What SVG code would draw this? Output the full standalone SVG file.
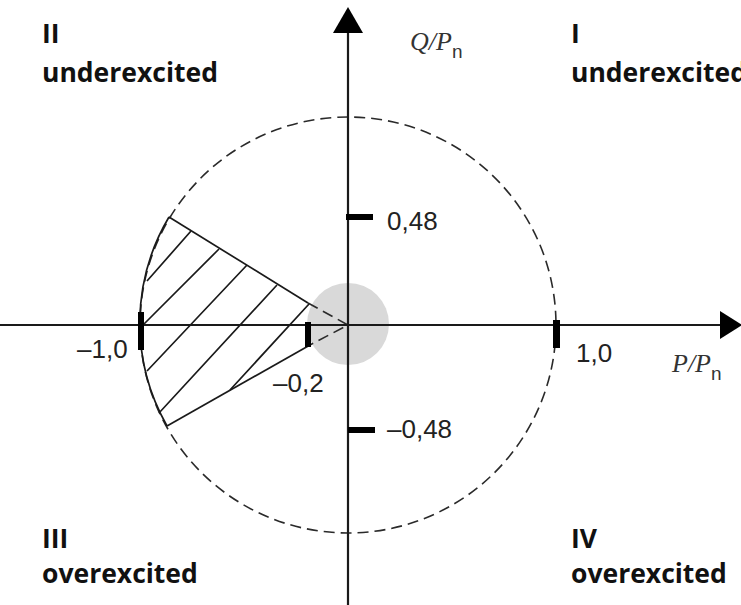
<svg xmlns="http://www.w3.org/2000/svg" width="741" height="605" viewBox="0 0 741 605">
<style>
.quad{font-family:"Open Sans","Noto Sans",sans-serif;font-weight:700;font-size:26.5px;fill:#111}
.num{font-family:"Liberation Sans",Arial,sans-serif;font-size:26px;fill:#222}
.var{font-family:"Liberation Serif","Times New Roman",serif;font-style:italic;font-size:26px;fill:#333}
.sub{font-family:"Liberation Sans",Arial,sans-serif;font-style:normal;font-size:19px;fill:#333}
.axis{stroke:#1a1a1a;stroke-width:2.2;fill:none}
.ln{stroke:#1a1a1a;stroke-width:1.7;fill:none}
.dash{stroke:#2a2a2a;stroke-width:1.6;fill:none;stroke-dasharray:11 6}
.tick{fill:#000}
</style>
<rect width="741" height="605" fill="#fff"/>
<g id="origin-zone">
<circle cx="348" cy="324" r="41" fill="#d9d9d9"/>
</g>
<g id="circle">
<circle class="dash" cx="348" cy="325" r="208"/>
<path class="ln" d="M169,217 A208,208 0 0 0 167,426"/>
</g>
<g id="region">
<path class="ln" d="M169,217 L308,303"/>
<path class="ln" d="M167,426 L310,345"/>
<path class="dash" d="M308,303 L348,325 L310,345" stroke-dasharray="7 5"/>
<path class="ln" d="M191,231 L147,281 M219,249 L142,326 M247,265 L147,371 M277,285 L159,413 M309,304 L230,390"/>
</g>
<g id="axes">
<line class="axis" x1="0" y1="325" x2="722" y2="325"/>
<polygon points="720,311 742,325 720,339" fill="#000"/>
<line class="axis" x1="348" y1="605" x2="348" y2="30"/>
<polygon points="333,33 348,7 363,33" fill="#000"/>
</g>
<g id="ticks">
<rect class="tick" x="138" y="312" width="6" height="38"/>
<rect class="tick" x="305" y="322" width="6" height="25"/>
<rect class="tick" x="553" y="320" width="7" height="28"/>
<rect class="tick" x="346" y="214" width="27" height="6"/>
<rect class="tick" x="348" y="427" width="27" height="6"/>
</g>
<g id="labels">
<text class="num" x="77" y="358">–1,0</text>
<text class="num" x="273" y="392">–0,2</text>
<text class="num" x="576" y="362">1,0</text>
<text class="num" x="387" y="230">0,48</text>
<text class="num" x="387" y="438">–0,48</text>
<text class="var" x="410" y="50">Q/P<tspan class="sub" dy="8">n</tspan></text>
<text class="var" x="672" y="372">P/P<tspan class="sub" dy="8">n</tspan></text>
</g>
<g id="quadrants">
<text class="quad" x="42" y="43">II</text>
<text class="quad" x="42" y="82">underexcited</text>
<text class="quad" x="571" y="43">I</text>
<text class="quad" x="571" y="82">underexcited</text>
<text class="quad" x="42" y="548">III</text>
<text class="quad" x="42" y="583">overexcited</text>
<text class="quad" x="571" y="548">IV</text>
<text class="quad" x="571" y="583">overexcited</text>
</g>
</svg>
